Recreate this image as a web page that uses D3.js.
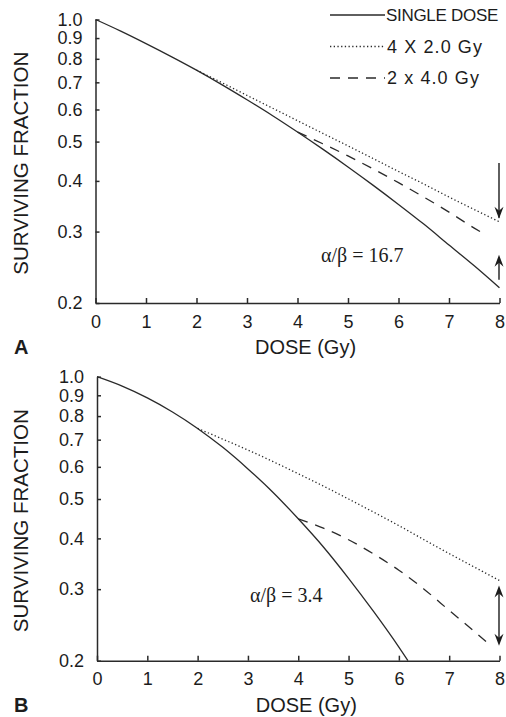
<!DOCTYPE html>
<html lang="en">
  <head>
    <meta charset="utf-8">
    <title>Surviving fraction vs dose</title>
    <script src="https://cdn.jsdelivr.net/npm/d3@7/dist/d3.min.js"></script>
    <style>
      html, body { margin: 0; padding: 0; background: #fff; }
      svg { display: block; }
      text { font-family: "Liberation Sans", Arial, sans-serif; fill: #1c1c1c; }
      .axis path, .axis line { stroke: #2a2a2a; stroke-width: 1.5; }
      .axis text { font-size: 18px; font-family: "Liberation Sans", Arial, sans-serif; fill: #1c1c1c; }
      .curve { fill: none; stroke: #2a2a2a; stroke-width: 1.3; }
    </style>
  </head>
  <body>
    <script>

    // values: [dose (Gy), surviving fraction]
    var doseTicks = [0, 1, 2, 3, 4, 5, 6, 7, 8],
        fractionTicks = [0.2, 0.3, 0.4, 0.5, 0.6, 0.7, 0.8, 0.9, 1.0];

    // panel A, alpha/beta = 16.7
    var singleA = [[0, 1], [0.5, 0.936], [1, 0.872], [1.5, 0.81], [2, 0.75], [2.5, 0.691], [3, 0.634],
        [3.5, 0.58], [4, 0.528], [4.5, 0.479], [5, 0.433], [5.5, 0.39], [6, 0.35], [6.5, 0.313],
        [7, 0.278], [7.5, 0.247], [8, 0.218]];
    var fourA = [[2, 0.75], [2.5, 0.699], [3, 0.65], [3.5, 0.605], [4, 0.563], [4.5, 0.524], [5, 0.488],
        [5.5, 0.454], [6, 0.422], [6.5, 0.393], [7, 0.365], [7.5, 0.34], [8, 0.317]];
    var twoA = [[4, 0.528], [4.5, 0.494], [5, 0.461], [5.5, 0.428], [6, 0.396], [6.5, 0.365], [7, 0.335],
        [7.5, 0.306], [7.7, 0.296]];

    // panel B, alpha/beta = 3.4
    var singleB = [[0, 1], [0.5, 0.948], [1, 0.887], [1.5, 0.819], [2, 0.746], [2.5, 0.67], [3, 0.593],
        [3.5, 0.519], [4, 0.447], [4.5, 0.381], [5, 0.319], [5.5, 0.264], [6, 0.216], [6.18, 0.2]];
    var fourB = [[2, 0.746], [2.5, 0.702], [3, 0.66], [3.5, 0.618], [4, 0.577], [4.5, 0.538], [5, 0.5],
        [5.5, 0.464], [6, 0.43], [6.5, 0.397], [7, 0.367], [7.5, 0.34], [8, 0.315]];
    var twoB = [[4, 0.447], [4.5, 0.424], [5, 0.397], [5.5, 0.366], [6, 0.334], [6.5, 0.3], [7, 0.266],
        [7.5, 0.236], [7.75, 0.222]];

    var legendLabels = ["SINGLE DOSE", "4 X 2.0 Gy", "2 x 4.0 Gy"];
    var dashes = [null, "1.3,2.4", "10,8"];

    var svg = d3.select("body").append("svg")
        .attr("width", 506)
        .attr("height", 717);

    function panel(o) {
      var x = d3.scaleLinear().domain([0, 8]).range([o.x0, o.x1]),
          y = d3.scaleLog().domain([0.2, 1]).range([o.y0, o.y1]);

      var g = svg.append("g");

      g.append("g")
          .attr("class", "axis")
          .attr("transform", "translate(0," + o.y0 + ")")
          .call(d3.axisBottom(x).tickValues(doseTicks).tickSizeInner(-5).tickSizeOuter(0).tickPadding(12));

      g.append("g")
          .attr("class", "axis")
          .attr("transform", "translate(" + o.x0 + ",0)")
          .call(d3.axisLeft(y).tickValues(fractionTicks).tickFormat(d3.format(".1f"))
              .tickSizeInner(-4).tickSizeOuter(0).tickPadding(13));

      g.selectAll(".axis").attr("font-size", null).attr("font-family", null);

      var line = d3.line()
          .x(function(d) { return x(d[0]); })
          .y(function(d) { return y(d[1]); })
          .curve(d3.curveMonotoneX);

      [o.single, o.four, o.two].forEach(function(data, i) {
        g.append("path")
            .attr("class", "curve")
            .attr("stroke-dasharray", dashes[i])
            .attr("d", line(data));
      });

      g.append("text")
          .attr("transform", "translate(" + 21 + "," + ((o.y0 + o.y1) / 2 + 2) + ")rotate(-90)")
          .attr("text-anchor", "middle")
          .attr("dy", "0.36em")
          .attr("font-size", 20.5)
          .text("SURVIVING FRACTION");

      g.append("text")
          .attr("x", (o.x0 + o.x1) / 2 + 8)
          .attr("y", o.y0 + 51)
          .attr("text-anchor", "middle")
          .attr("font-size", 20)
          .text("DOSE (Gy)");

      g.append("text")
          .attr("x", 14)
          .attr("y", o.y0 + 51)
          .attr("font-size", 20)
          .attr("font-weight", "bold")
          .text(o.letter);

      g.append("text")
          .attr("x", o.noteX)
          .attr("y", o.noteY)
          .attr("font-size", 20)
          .style("font-family", "'Liberation Serif', 'Times New Roman', serif")
          .text(o.note);

      return {x: x, y: y, g: g};
    }

    function arrowHead(g, ax, ay, dir) {
      // dir = 1 points down, -1 points up
      g.append("path")
          .attr("d", "M" + ax + "," + ay + "L" + (ax - 4.5) + "," + (ay - dir * 12) +
              "L" + ax + "," + (ay - dir * 8) + "L" + (ax + 4.5) + "," + (ay - dir * 12) + "Z")
          .attr("fill", "#1c1c1c");
    }

    function shaft(g, ax, ya, yb) {
      g.append("line")
          .attr("x1", ax).attr("x2", ax)
          .attr("y1", ya).attr("y2", yb)
          .attr("stroke", "#1c1c1c")
          .attr("stroke-width", 1.4);
    }

    var A = panel({x0: 95.5, x1: 499.5, y0: 303, y1: 19.5, letter: "A",
        single: singleA, four: fourA, two: twoA,
        note: "\u03b1/\u03b2 = 16.7", noteX: 321, noteY: 262});

    var B = panel({x0: 97, x1: 499.5, y0: 660.7, y1: 376.7, letter: "B",
        single: singleB, four: fourB, two: twoB,
        note: "\u03b1/\u03b2 = 3.4", noteX: 250, noteY: 602});

    // arrows at 8 Gy
    var ax = A.x(8) - 0.5;
    shaft(A.g, ax, 163, A.y(0.317) - 4);
    arrowHead(A.g, ax, A.y(0.317) - 3, 1);
    shaft(A.g, ax, A.y(0.218) - 8, A.y(0.218) - 30);
    arrowHead(A.g, ax, A.y(0.218) - 33, -1);

    var bx = B.x(8) - 0.5;
    shaft(B.g, bx, B.y(0.315) + 8, B.y(0.214) - 6);
    arrowHead(B.g, bx, B.y(0.315) + 5, -1);
    arrowHead(B.g, bx, B.y(0.214) - 3, 1);

    // legend
    var legend = svg.append("g").attr("transform", "translate(330,0)");
    legendLabels.forEach(function(label, i) {
      var ly = 15 + i * 31.5;
      legend.append("line")
          .attr("x1", 0).attr("x2", 55)
          .attr("y1", ly).attr("y2", ly)
          .attr("class", "curve")
          .attr("stroke-dasharray", dashes[i]);
      legend.append("text")
          .attr("x", i === 0 ? 56 : 57)
          .attr("y", ly)
          .attr("dy", "0.36em")
          .attr("font-size", i === 0 ? 17 : 18)
          .attr("letter-spacing", i === 0 ? -0.3 : 1.1)
          .text(label);
    });

    </script>
  </body>
</html>
